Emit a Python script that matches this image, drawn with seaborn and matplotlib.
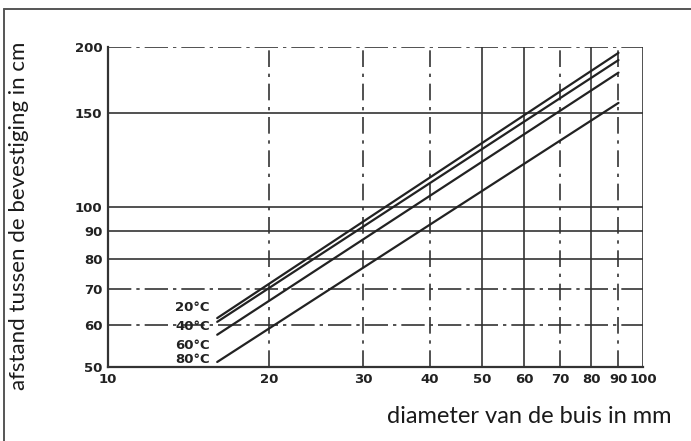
import matplotlib
matplotlib.use("Agg")
import matplotlib.pyplot as plt
import seaborn as sns
import pandas as pd
import numpy as np
from matplotlib.lines import Line2D

# waarden (begin- en eindpunt per temperatuur)
temperaturen = ['20°C', '40°C', '60°C', '80°C']
diameter = [16, 90]
afstand_20 = [61.8, 195]
afstand_40 = [60.8, 189]
afstand_60 = [57.5, 179]
afstand_80 = [51.1, 157]

x_ticks = [10, 20, 30, 40, 50, 60, 70, 80, 90, 100]
y_ticks = [50, 60, 70, 80, 90, 100, 150, 200]

df = pd.DataFrame({
    'diameter': diameter * 4,
    'afstand': afstand_20 + afstand_40 + afstand_60 + afstand_80,
    'temp': [t for t in temperaturen for _ in diameter],
})

sns.set_style('white')
plt.rcParams['font.family'] = ['DejaVu Sans']

fig = plt.figure(figsize=(6.91, 4.41), dpi=100)
ax = fig.add_axes([0.1563, 0.1678, 0.7742, 0.7256])

ax.set_xscale('log')
ax.set_yscale('log')
ax.set_xlim(10, 100)
ax.set_ylim(50, 200)

# rooster
kleur = '#333333'
for y in y_ticks[1:]:
    ax.axhline(y, color=kleur, lw=1.2, ls=(0, (14, 3, 2, 3)) if y in (60, 70, 200) else '-', zorder=1)
for x in x_ticks[1:]:
    ax.axvline(x, color=kleur, lw=1.2, ls=(0, (10, 4, 2, 4)) if x in (20, 30, 40, 70, 90) else '-', zorder=1)

sns.lineplot(data=df, x='diameter', y='afstand', hue='temp',
             palette=['#222222'] * 4, linewidth=1.6, legend=False, ax=ax, zorder=3)

for t, y in zip(temperaturen, [64.6, 59.5, 55.0, 51.6]):
    ax.text(15.5, y, t, ha='right', va='center', fontsize=9.5, fontweight='bold', color='#222222')

ax.set_xticks(x_ticks)
ax.set_xticklabels([str(v) for v in x_ticks], fontsize=9.5, fontweight='bold', color='#222222')
ax.set_yticks(y_ticks)
ax.set_yticklabels([str(v) for v in y_ticks], fontsize=9.5, fontweight='bold', color='#222222')
ax.minorticks_off()
ax.tick_params(length=0, pad=4)

for s in ['top', 'right']:
    ax.spines[s].set_visible(False)
for s in ['left', 'bottom']:
    ax.spines[s].set_color(kleur)
    ax.spines[s].set_linewidth(1.6)

ax.set_xlabel('')
ax.set_ylabel('')
fig.text(0.972, 0.055, 'diameter van de buis in mm', ha='right', va='center',
         fontsize=17, color='#1a1a1a', family='Lato')
fig.text(0.027, 0.51, 'afstand tussen de bevestiging in cm', rotation=90,
         ha='center', va='center', fontsize=16, color='#1a1a1a', family='Lato')

# kader om de figuur (alleen boven en links)
fig.add_artist(Line2D([0.006, 1.0], [0.979, 0.979], transform=fig.transFigure, color='#555555', lw=1.4))
fig.add_artist(Line2D([0.006, 0.006], [0.0, 0.979], transform=fig.transFigure, color='#555555', lw=1.4))

fig.savefig('out.png', dpi=100)
